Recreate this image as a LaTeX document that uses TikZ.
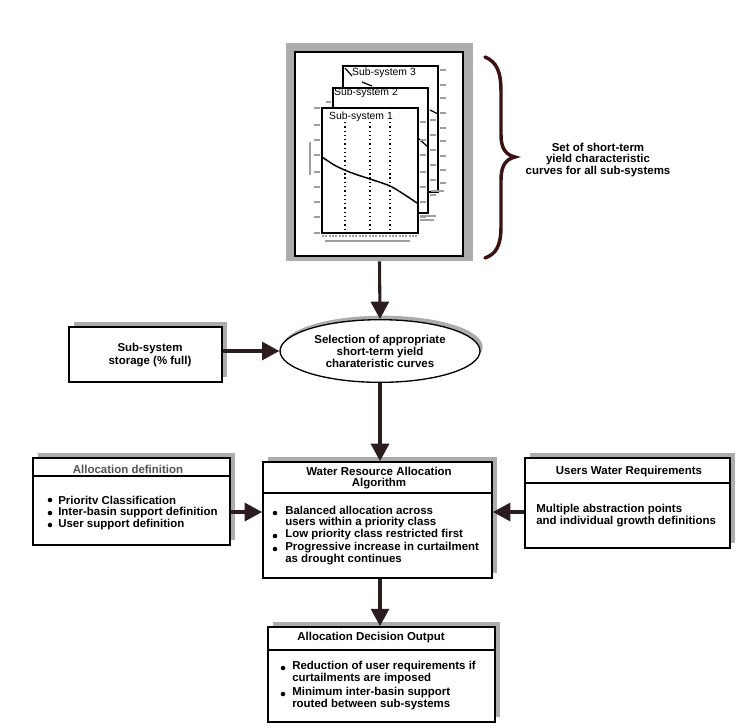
\documentclass[tikz,border=0pt]{standalone}
\usepackage{fontspec}
\setmainfont{Liberation Sans}
\usetikzlibrary{arrows.meta,shapes.geometric,fit,shadows}
\definecolor{arrowc}{HTML}{2B1D1D}
\definecolor{bracec}{HTML}{3A1212}
\definecolor{shadec}{HTML}{ACACAC}
\begin{document}
\begin{tikzpicture}[x=0.75pt,y=-0.75pt,
 box/.style={draw=black,line width=1.4pt,fill=white,inner sep=0pt},
 shad/.style={drop shadow={shadow xshift=3.5pt,shadow yshift=3.5pt,fill=shadec,opacity=1}},
 txt/.style={font=\fontsize{8.6}{7.6}\selectfont\bfseries,inner sep=0pt,align=left},
 ctxt/.style={txt,align=center},
 arr/.style={draw=arrowc,line width=2.3pt,-{Triangle[length=13pt,width=13.5pt]}},
 bdot/.style={circle,fill=black,inner sep=0pt,minimum size=3.4pt},
 chart/.style={draw=black,line width=0.9pt,fill=white},
 tk/.style={draw=gray!75,line width=0.9pt},
 lbl/.style={font=\fontsize{7.8}{8}\selectfont,inner sep=0pt},
]
\useasboundingbox (0,0) rectangle (748,726);

% ---- top picture frame ----
\node[fill=shadec,inner sep=0pt,fit={(286,43)(473,261)}] (frame) {};
\draw[box] (295,52) rectangle (463,256);

% chart 3
\draw[chart] (343,66) rectangle (438,192);
\foreach \y in {70,85,98,113,128,141,156,170,183} \draw[tk] (440,\y) -- (446,\y);
\draw[tk] (431,191) -- (444,191);
\draw[line width=0.9pt] (345,68) -- (352,76);
\draw[line width=0.9pt] (362,82) -- (372,86);
\draw[line width=0.9pt] (430,110) -- (438,114);
\node[lbl] (s3) at (384,73) {Sub-system 3};

% chart 2
\draw[chart] (333,88) rectangle (428,213);
\foreach \y in {120,135,150,165,180,195} \draw[tk] (430,\y) -- (436,\y);
\draw[tk] (420,216) -- (436,216);
\draw[tk] (420,220) -- (434,220);
\draw[tk] (326,102) -- (331,102);
\draw[line width=0.9pt] (418,138) -- (428,147);
\node[lbl] (s2) at (366,93) {Sub-system 2};

% chart 1
\draw[chart] (322,108) rectangle (418,233);
\foreach \y in {108,125,140,155,172,187,202,217,233} \draw[tk] (314,\y) -- (320,\y);
\foreach \y in {122,140,155,172,187,202,217} \draw[tk] (420,\y) -- (426,\y);
\draw[tk] (310,142) -- (310,175);
\draw[tk,dash pattern=on 1.5pt off 1pt] (322,236) -- (418,236);
\draw[tk] (325,241) -- (410,241);
\foreach \x in {345,370,390} \draw[line width=0.8pt,dash pattern=on 1pt off 2.2pt] (\x,122) -- (\x,232);
\draw[line width=1.1pt] plot[smooth] coordinates {(322,157) (336,166) (352,173) (370,179) (390,186) (405,195) (417,203)};
\node[lbl] (s1) at (361,117) {Sub-system 1};

% brace
\draw[bracec,line width=2.6pt,line cap=round] (485,57) .. controls (497,62) and (501,72) .. (501,92) -- (501,135) .. controls (501,150) and (507,155) .. (515,157) .. controls (507,159) and (501,164) .. (501,180) -- (501,226) .. controls (501,246) and (496,254) .. (485,258);
\node[ctxt,font=\fontsize{8.6}{8.6}\selectfont\bfseries] (bt) at (598,160) {Set of short-term\\yield characteristic\\curves for all sub-systems};

% ---- selection ellipse ----
\node[ellipse,draw=black,line width=1pt,fill=white,minimum width=150pt,minimum height=47pt,
  drop shadow={shadow xshift=2pt,shadow yshift=3pt,fill=shadec,opacity=1},
  ctxt,font=\fontsize{8.6}{9}\selectfont\bfseries] (sel) at (380,351)
  {Selection of appropriate\\short-term yield\\charateristic curves};

% ---- storage box ----
\node[box,shad,fit={(69,327)(222,382)}] (store) {};
\node[ctxt,font=\fontsize{8.6}{9.7}\selectfont\bfseries] (storet) at (150,355) {Sub-system\\storage (\% full)};

% ---- allocation definition ----
\node[box,shad,fit={(33,458)(230,545)}] (alloc) {};
\draw[line width=1.1pt] (33,476) -- (230,476);
\node[ctxt,text=gray!65!black] (at) at (128,469) {Allocation definition};
\node[bdot] (ad1) at (50,500) {};
\node[bdot] (ad2) at (50,513) {};
\node[bdot] (ad3) at (50,525) {};
\node[txt,anchor=west] (a1) at (58,500) {Prioritv Classification};
\node[txt,anchor=west] (a2) at (58,512.5) {Inter-basin support definition};
\node[txt,anchor=west] (a3) at (58,525) {User support definition};

% ---- water resource allocation algorithm ----
\node[box,shad,fit={(263,462)(492,578)}] (wraa) {};
\draw[line width=1.1pt] (263,493) -- (492,493);
\node[ctxt] (wt) at (379,478) {Water Resource Allocation\\Algorithm};
\node[bdot] (wd1) at (275,513) {};
\node[bdot] (wd2) at (275,536) {};
\node[bdot] (wd3) at (275,549) {};
\node[txt,anchor=west] (w1) at (285,517) {Balanced allocation across\\users within a priority class};
\node[txt,anchor=west] (w2) at (285,535) {Low priority class restricted first};
\node[txt,anchor=west] (w3) at (285,554) {Progressive increase in curtailment\\as drought continues};

% ---- users water requirements ----
\node[box,shad,fit={(525,458)(730,548)}] (users) {};
\draw[line width=1.1pt] (525,483) -- (730,483);
\node[ctxt] (ut) at (629,472) {Users Water Requirements};
\node[txt,anchor=west] (u1) at (536,516) {Multiple abstraction points\\and individual growth definitions};

% ---- allocation decision output ----
\node[box,shad,fit={(268,627)(495,722)}] (out) {};
\draw[line width=1.1pt] (268,650) -- (495,650);
\node[ctxt] (ot) at (371,638) {Allocation Decision Output};
\node[bdot] (od1) at (283,668) {};
\node[bdot] (od2) at (283,694) {};
\node[txt,anchor=west] (o1) at (292,672.5) {Reduction of user requirements if\\curtailments are imposed};
\node[txt,anchor=west] (o2) at (292,698.5) {Minimum inter-basin support\\routed between sub-systems};

% ---- connectors ----
\draw[arr] (frame.south) -- (sel.north);
\draw[arr] (store.east |- sel.west) -- (sel.west);
\draw[arr] (sel.south) -- (sel.south |- wraa.north);
\draw[arr] (alloc.east |- {(0,512)}) -- (wraa.west |- {(0,512)});
\draw[arr] (users.west |- {(0,512)}) -- (wraa.east |- {(0,512)});
\draw[arr] (sel.south |- wraa.south) -- (sel.south |- out.north);
\end{tikzpicture}
\end{document}
